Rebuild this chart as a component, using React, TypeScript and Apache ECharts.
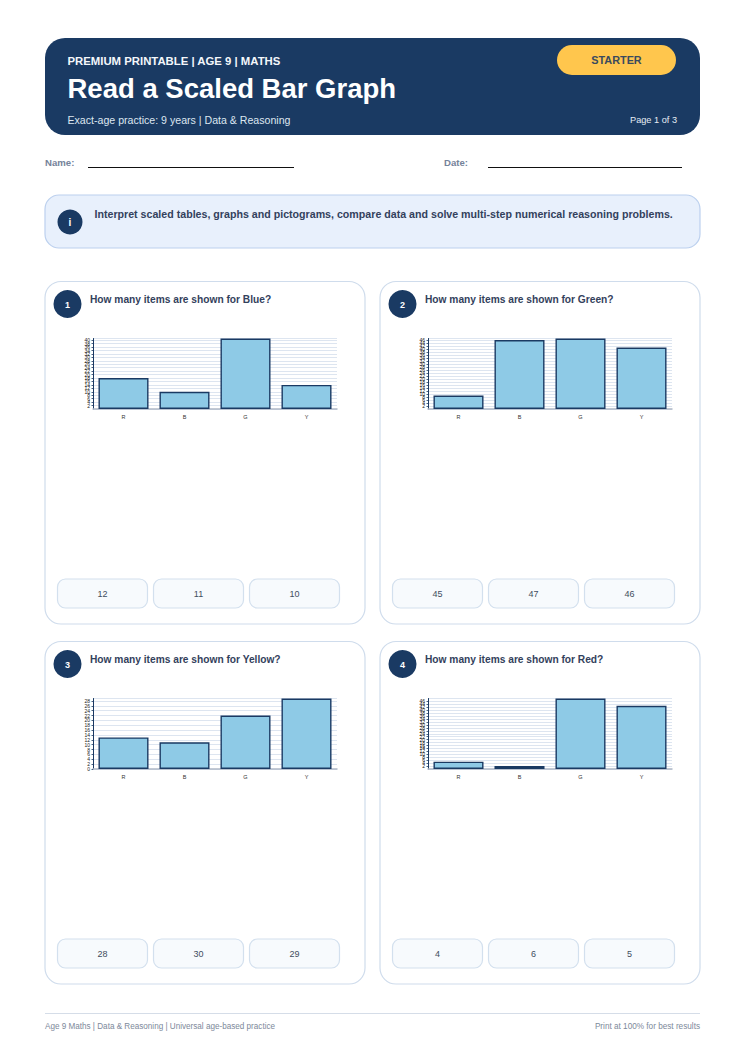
import React, { useEffect, useRef } from "react";
import * as echarts from "echarts";

const categories = ["R", "B", "G", "Y"];
const chart1Values = [18, 10, 41, 14];
const chart2Values = [9, 46, 47, 41];
const chart3Values = [13, 11, 22, 29];
const chart4Values = [5, 2, 48, 43];
const chartValues = [chart1Values, chart2Values, chart3Values, chart4Values];
const questions = [
  "How many items are shown for Blue?",
  "How many items are shown for Green?",
  "How many items are shown for Yellow?",
  "How many items are shown for Red?",
];
const optionLabels = [
  ["12", "11", "10"],
  ["45", "47", "46"],
  ["28", "30", "29"],
  ["4", "6", "5"],
];

const FONT = '"Liberation Sans", Arial, sans-serif';
const NAVY = "#1a3a63";

const txt = (text: string, x: number, y: number, size: number, fill: string, weight: any = "normal", align: any = "left") => ({
  type: "text",
  z: 10,
  style: { text, x, y, fontFamily: FONT, fontSize: size, fontWeight: weight, fill, align, verticalAlign: "middle" },
});
const box = (x: number, y: number, w: number, h: number, r: number, fill: string, stroke?: string, lw = 1, z = 1) => ({
  type: "rect",
  z,
  shape: { x, y, width: w, height: h, r },
  style: { fill, stroke: stroke ?? "none", lineWidth: lw },
});
const circle = (cx: number, cy: number, r: number, fill: string) => ({
  type: "circle",
  z: 5,
  shape: { cx, cy, r },
  style: { fill },
});
const rule = (x1: number, x2: number, y: number, stroke: string, lw = 1) => ({
  type: "line",
  z: 5,
  shape: { x1, y1: y, x2, y2: y },
  style: { stroke, lineWidth: lw },
});

const cardX = [45, 380];
const cardY = [281.5, 641.5];

export default function App() {
  const ref = useRef<HTMLDivElement>(null);
  useEffect(() => {
    document.body.style.margin = "0";
    const chart = echarts.init(ref.current!, undefined, { renderer: "svg" });
    const elements: any[] = [
      box(45, 38, 655, 97, 20, NAVY),
      box(557, 45, 119, 30, 15, "#ffc64d", undefined, 1, 5),
      txt("PREMIUM PRINTABLE | AGE 9 | MATHS", 67.5, 61, 11.35, "#f4f7fb", "bold"),
      txt("Read a Scaled Bar Graph", 67.5, 88.5, 27.5, "#ffffff", "bold"),
      txt("Exact-age practice: 9 years | Data & Reasoning", 67.5, 119.5, 10.6, "#dde6f0"),
      txt("STARTER", 616.5, 60, 10.85, "#3a4a5e", "bold", "center"),
      txt("Page 1 of 3", 677, 119.5, 9.2, "#e6ecf4", "normal", "right"),
      txt("Name:", 45, 162, 9.6, "#75839a", "bold"),
      rule(88, 294, 167.5, "#111111"),
      txt("Date:", 444, 162, 9.6, "#75839a", "bold"),
      rule(488, 682, 167.5, "#111111"),
      box(45, 195, 655, 53, 14, "#e8f0fc", "#bcd0ee", 1.2),
      circle(70, 222, 12.5, NAVY),
      txt("i", 70, 222.5, 10, "#ffffff", "bold", "center"),
      txt("Interpret scaled tables, graphs and pictograms, compare data and solve multi-step numerical reasoning problems.", 94.5, 214, 10.65, "#33415c", "bold"),
      rule(45, 700, 1013.5, "#d5dde8"),
      txt("Age 9 Maths | Data & Reasoning | Universal age-based practice", 45, 1026, 8.15, "#7d899a"),
      txt("Print at 100% for best results", 700, 1026, 8.2, "#7d899a", "normal", "right"),
    ];
    const grids: any[] = [];
    const xAxes: any[] = [];
    const yAxes: any[] = [];
    const series: any[] = [];
    chartValues.forEach((values, i) => {
      const cx = cardX[i % 2];
      const cy = cardY[i < 2 ? 0 : 1];
      elements.push(box(cx, cy, 320, 342.5, 16, "#ffffff", "#cfdcec", 1.2));
      elements.push(circle(cx + 22.5, cy + 22.5, 14, NAVY));
      elements.push(txt(String(i + 1), cx + 22.5, cy + 23, 9, "#ffffff", "bold", "center"));
      elements.push(txt(questions[i], cx + 45, cy + 17.5, 10.2, "#33415c", "bold"));
      optionLabels[i].forEach((label, k) => {
        const ox = cx + 12.5 + k * 96;
        elements.push(box(ox, cy + 297.5, 90, 29, 8, "#f7fafd", "#d3e0ee", 1.2, 2));
        elements.push(txt(label, ox + 45, cy + 312.5, 9, "#3f4d60", "normal", "center"));
      });
      grids.push({ left: cx + 48, width: 244, top: cy + 57, height: 70.5, z: 20 });
      xAxes.push({
        type: "category",
        gridIndex: i,
        z: 20,
        data: categories,
        axisLine: { lineStyle: { color: "#aeb8c6", width: 1.5 } },
        axisTick: { show: false },
        axisLabel: { fontSize: 5.5, color: "#333333", fontFamily: FONT, margin: 4.5 },
      });
      yAxes.push({
        type: "value",
        gridIndex: i,
        z: 20,
        min: 0,
        max: Math.max(...values),
        interval: 2,
        axisLine: { show: true, lineStyle: { color: NAVY, width: 1 } },
        axisTick: { show: true, length: 1.5, lineStyle: { color: NAVY, width: 0.8 } },
        axisLabel: { fontSize: 5, color: "#222222", fontFamily: FONT, margin: 3, hideOverlap: false },
        splitLine: { show: true, lineStyle: { color: "#dde5f0", width: 1 } },
      });
      series.push({
        type: "bar",
        xAxisIndex: i,
        yAxisIndex: i,
        data: values,
        barWidth: "82%",
        itemStyle: { color: "#8ecae6", borderColor: NAVY, borderWidth: 1.4 },
        z: 30,
      });
    });
    chart.setOption({
      animation: false,
      graphic: { elements },
      grid: grids,
      xAxis: xAxes,
      yAxis: yAxes,
      series,
    });
    return () => chart.dispose();
  }, []);
  return <div ref={ref} style={{ width: 745, height: 1053 }} />;
}
